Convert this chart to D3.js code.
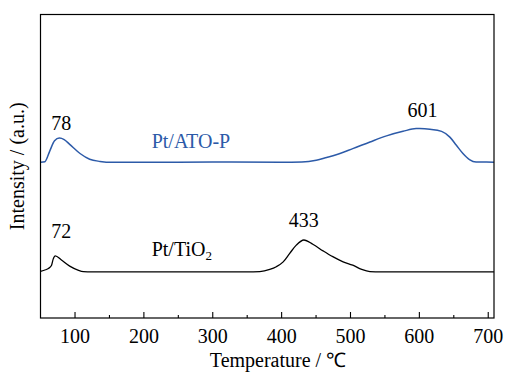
<!DOCTYPE html>
<html>
<head>
<meta charset="utf-8">
<script src="https://cdn.jsdelivr.net/npm/d3@7"></script>
<style>
  html, body { margin: 0; padding: 0; background: #fff; }
  svg { display: block; }
</style>
</head>
<body>
<svg id="chart" width="506" height="372"></svg>
<script>
// H2-TPR profiles: temperature (°C) vs. intensity (a.u., offset stacked)
const xTicks = [100, 200, 300, 400, 500, 600, 700];
const xMinorTicks = [150, 250, 350, 450, 550, 650];

// Pt/ATO-P trace
const atoTemp = [50.6, 57, 64, 71, 78, 85, 93, 108, 122, 137, 155, 200, 300, 400, 430,
                 451, 466, 480, 504, 529, 553, 577, 596, 601, 616, 633, 645, 654.5, 664, 673.5, 683, 698, 709];
const atoIntensity = [51.3, 51.5, 55.0, 58.4, 59.3, 58.8, 57.2, 54.2, 52.3, 51.6, 51.3, 51.3, 51.4, 51.3, 51.4,
                      52.0, 52.9, 53.8, 55.8, 58.0, 60.0, 61.5, 62.4, 62.4, 62.2, 61.5, 59.6, 56.9, 54.2, 52.2, 51.4, 51.4, 51.3];

// Pt/TiO2 trace
const tioTemp = [50.6, 58, 62, 66.5, 69, 72, 81, 93, 105, 113, 125, 200, 300, 350,
                 369, 383.5, 393, 403, 412.5, 422, 433, 446, 461, 475, 490, 504, 517, 529, 545, 600, 709];
const tioIntensity = [15.4, 15.9, 16.3, 17.3, 19.4, 20.5, 19.1, 17.1, 15.8, 15.3, 15.2, 15.2, 15.2, 15.2,
                      15.3, 16.0, 16.9, 18.5, 21.3, 24.0, 25.7, 24.3, 22.1, 20.2, 18.5, 17.4, 16.0, 15.3, 15.2, 15.2, 15.2];

// Peak annotations (°C)
const atoPeaks = [78, 601];
const tioPeaks = [72, 433];

const seriesNames = ["Pt/ATO-P", "Pt/TiO"];

const FONT = "'Liberation Serif', 'Times New Roman', serif";

const svg = d3.select("#chart");
const W = 506, H = 372;
const mLeft = 40.5, mRight = 494, mTop = 14.5, mBottom = 318;

svg.append("rect").attr("width", W).attr("height", H).attr("fill", "#fff");

const x = d3.scaleLinear().domain([50.6, 709.1]).range([mLeft, mRight]);
const y = d3.scaleLinear().domain([0, 100]).range([mBottom, mTop]);

const blue = "#2c5aa8";

const line = d3.line()
  .x(d => x(d[0]))
  .y(d => y(d[1]))
  .curve(d3.curveMonotoneX);

const ato = d3.zip(atoTemp, atoIntensity);
const tio = d3.zip(tioTemp, tioIntensity);

const plot = svg.append("g");
plot.append("path").datum(ato)
  .attr("d", line).attr("fill", "none")
  .attr("stroke", blue).attr("stroke-width", 1.5).attr("stroke-linejoin", "round");
plot.append("path").datum(tio)
  .attr("d", line).attr("fill", "none")
  .attr("stroke", "#000").attr("stroke-width", 1.3).attr("stroke-linejoin", "round");

// frame
svg.append("rect")
  .attr("x", mLeft).attr("y", mTop)
  .attr("width", mRight - mLeft).attr("height", mBottom - mTop)
  .attr("fill", "none").attr("stroke", "#000").attr("stroke-width", 1.2);

// bottom axis with inward ticks
const xAxis = d3.axisBottom(x).tickValues(xTicks).tickSizeInner(-6).tickSizeOuter(0).tickPadding(11);
const gx = svg.append("g").attr("transform", `translate(0,${mBottom})`).call(xAxis)
  .attr("font-family", FONT).attr("font-size", 20);
gx.select(".domain").remove();
gx.selectAll(".tick line").attr("stroke", "#000").attr("stroke-width", 1.1);
gx.selectAll(".tick text").attr("fill", "#000");

const xMinor = d3.axisBottom(x).tickValues(xMinorTicks).tickSizeInner(-3).tickSizeOuter(0).tickFormat("");
const gm = svg.append("g").attr("transform", `translate(0,${mBottom})`).call(xMinor);
gm.select(".domain").remove();
gm.selectAll(".tick line").attr("stroke", "#000").attr("stroke-width", 1.1);

// axis titles
svg.append("text")
  .attr("x", 278).attr("y", 367)
  .attr("text-anchor", "middle").attr("font-size", 20).attr("font-family", FONT)
  .text("Temperature / ℃");

svg.append("text")
  .attr("transform", `translate(24,${(mTop + mBottom) / 2}) rotate(-90)`)
  .attr("text-anchor", "middle").attr("font-size", 20).attr("font-family", FONT)
  .text("Intensity / (a.u.)");

// peak labels placed above each peak maximum
function peakValue(series, t) {
  return series.reduce((a, b) => Math.abs(b[0] - t) < Math.abs(a[0] - t) ? b : a)[1];
}
const peakOffsets = { 78: [2, -8], 601: [3, -12], 72: [6, -18], 433: [0, -13] };
const peakLabels = atoPeaks.map(t => ({ t, v: peakValue(ato, t) }))
  .concat(tioPeaks.map(t => ({ t, v: peakValue(tio, t) })));
svg.selectAll("text.peak").data(peakLabels).join("text")
  .attr("class", "peak")
  .attr("x", d => x(d.t) + peakOffsets[d.t][0])
  .attr("y", d => y(d.v) + peakOffsets[d.t][1])
  .attr("text-anchor", "middle").attr("font-size", 20).attr("font-family", FONT).attr("fill", "#000")
  .text(d => d.t);

// series names
svg.append("text")
  .attr("x", x(212)).attr("y", y(55.9))
  .attr("font-size", 20).attr("font-family", FONT).attr("fill", blue)
  .text(seriesNames[0]);

const tl = svg.append("text")
  .attr("x", x(212)).attr("y", y(20.4))
  .attr("font-size", 20).attr("font-family", FONT).attr("fill", "#000");
tl.append("tspan").text(seriesNames[1]);
tl.append("tspan").attr("font-size", 13).attr("dy", 4).text("2");
</script>
</body>
</html>
